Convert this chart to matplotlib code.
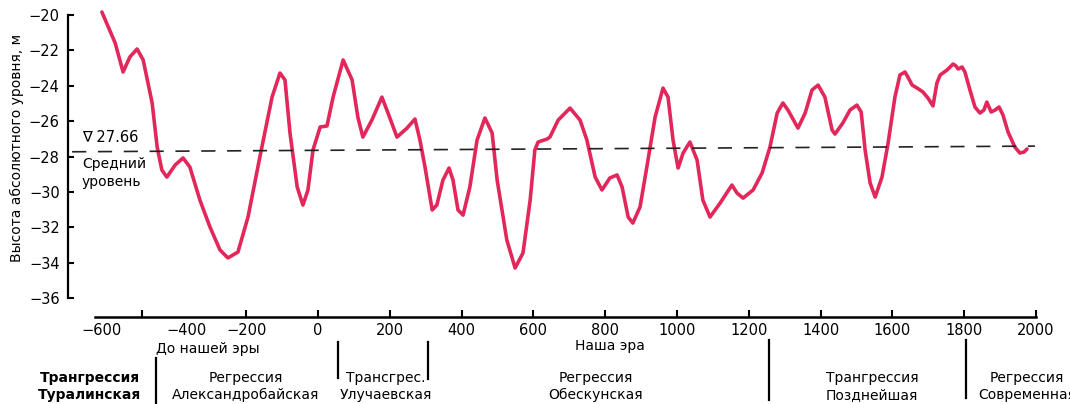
import matplotlib
matplotlib.use('Agg')
import matplotlib.pyplot as plt
import matplotlib.transforms as mtransforms
from matplotlib.lines import Line2D

# Caspian sea level curve: year, absolute level (m)
years = [-602, -565, -543, -524, -504, -487, -462, -448, -435, -421,
         -398, -376, -357, -329, -301, -273, -251, -223, -195, -162,
         -128, -106, -92, -78, -58, -42, -28, -14, 6, 25,
         42, 70, 95, 111, 125, 150, 178, 195, 220, 248,
         270, 284, 298, 318, 331, 348, 365, 376, 390, 404,
         423, 443, 465, 485, 499, 526, 549, 571, 591, 604,
         613, 638, 646, 669, 702, 730, 749, 772, 791, 813,
         833, 847, 864, 877, 897, 916, 939, 961, 975, 989,
         1003, 1017, 1036, 1056, 1072, 1092, 1120, 1153, 1167, 1184,
         1212, 1237, 1259, 1279, 1295, 1309, 1337, 1357, 1376, 1393,
         1412, 1432, 1440, 1462, 1482, 1501, 1513, 1524, 1538, 1552,
         1571, 1588, 1607, 1621, 1635, 1643, 1655, 1669, 1685, 1699,
         1713, 1724, 1733, 1752, 1769, 1777, 1783, 1794, 1802, 1816,
         1830, 1844, 1855, 1863, 1875, 1886, 1897, 1908, 1922, 1941,
         1955, 1967, 1975]
level = [-19.83, -21.58, -23.22, -22.37, -21.92, -22.54, -24.97, -27.46, -28.76, -29.16,
         -28.48, -28.08, -28.59, -30.46, -31.98, -33.28, -33.73, -33.40, -31.42, -28.03,
         -24.64, -23.28, -23.67, -26.67, -29.72, -30.74, -29.89, -27.63, -26.33, -26.27,
         -24.64, -22.54, -23.67, -25.77, -26.90, -25.94, -24.64, -25.54, -26.90, -26.39,
         -25.88, -27.07, -28.59, -31.02, -30.74, -29.33, -28.65, -29.33, -31.02, -31.31,
         -29.72, -27.07, -25.82, -26.67, -29.33, -32.72, -34.30, -33.45, -30.46, -27.63,
         -27.18, -27.01, -26.90, -25.94, -25.26, -25.94, -27.07, -29.16, -29.89, -29.21,
         -29.04, -29.72, -31.42, -31.76, -30.85, -28.59, -25.77, -24.13, -24.64, -27.07,
         -28.65, -27.80, -27.18, -28.20, -30.46, -31.42, -30.63, -29.61, -30.06, -30.35,
         -29.89, -28.93, -27.46, -25.54, -24.97, -25.37, -26.39, -25.54, -24.24, -23.96,
         -24.64, -26.50, -26.73, -26.10, -25.37, -25.09, -25.48, -27.63, -29.50, -30.29,
         -29.16, -27.24, -24.64, -23.39, -23.22, -23.50, -23.96, -24.13, -24.35, -24.69,
         -25.14, -23.84, -23.39, -23.11, -22.77, -22.88, -23.05, -22.94, -23.22, -24.24,
         -25.20, -25.54, -25.37, -24.92, -25.48, -25.37, -25.20, -25.65, -26.61, -27.46,
         -27.80, -27.74, -27.57]

# mean level line
mean_years = [-685, 1997]
mean_level = [-27.73, -27.41]
mean_label = '\u2207 27.66'

ytick_vals = [-20, -22, -24, -26, -28, -30, -32, -34, -36]
xtick_vals = [-600, -400, -200, 0, 200, 400, 600, 800, 1000, 1200, 1400, 1600, 1800, 2000]
xtick_marks = [-490, -200, 0, 200, 400, 600, 800, 1000, 1200, 1400, 1600, 1800, 2000]

# transgression / regression periods
period_bounds = [-450, 55, 305, 1255, 1805]
period_top = ['Трангрессия', 'Регрессия', 'Трансгрес.', 'Регрессия', 'Трангрессия', 'Регрессия']
period_bottom = ['Туралинская', 'Александробайская', 'Улучаевская', 'Обескунская', 'Позднейшая', 'Современная']

W, H = 1070, 404
RED = '#e2285a'


def fx(x):
    return x / W


def fy(y):
    return 1 - y / H


fig = plt.figure(figsize=(W / 100, H / 100), dpi=100)
ax = fig.add_axes([fx(68), fy(317), (W - 68) / W, 317 / H])
ax.set_xlim(-696.4, 2094.7)
ax.set_ylim(-37.07, -19.15)

ax.plot(years, level, color=RED, lw=2.6, solid_capstyle='round', solid_joinstyle='round')
ax.plot(mean_years, mean_level, color='#222222', lw=1.2, dashes=(8.5, 7))

for s in ['top', 'right']:
    ax.spines[s].set_visible(False)
ax.spines['left'].set_bounds(-36, -20)
ax.spines['bottom'].set_bounds(-621, 2000)
ax.spines['left'].set_linewidth(1.6)
ax.spines['bottom'].set_linewidth(1.8)

ax.set_yticks(ytick_vals, ['\u2212%d' % abs(v) for v in ytick_vals])
ax.tick_params(axis='y', direction='in', length=4, width=1.5, pad=6, labelsize=10.5)

# tick labels do not sit on the tick marks in the original
label_pos = list(xtick_vals)
label_pos[0] = -602
label_pos[1] = -365
ax.xaxis.remove_overlapping_locs = False
ax.set_xticks(label_pos, [str(v).replace('-', '\u2212') for v in xtick_vals])
ax.set_xticks(xtick_marks, minor=True)
ax.tick_params(axis='x', which='major', length=0, pad=4, labelsize=10.5)
ax.tick_params(axis='x', which='minor', direction='in', length=5, width=1.5)

fig.text(fx(17), fy(148), 'Высота абсолютного уровня, м', rotation=90,
         ha='center', va='center', fontsize=10)

fig.text(fx(82), fy(137), mean_label, ha='left', va='center', fontsize=10.5)
fig.text(fx(82), fy(164), 'Средний', ha='left', va='center', fontsize=10)
fig.text(fx(82), fy(182), 'уровень', ha='left', va='center', fontsize=10)

fig.text(fx(208), fy(349), 'До нашей эры', ha='center', va='center', fontsize=10)
fig.text(fx(610), fy(346), 'Наша эра', ha='center', va='center', fontsize=10)

# period labels along the bottom
trans = mtransforms.blended_transform_factory(ax.transData, fig.transFigure)
line_span = [(358, 404), (342, 378), (342, 379), (340, 400), (340, 398)]
for b, (y0, y1) in zip(period_bounds, line_span):
    fig.add_artist(Line2D([b, b], [fy(y0), fy(y1)], transform=trans, color='black', lw=1.6))

label_x = [90, 246, 386, 596, 872, 1027]
for i, (t, b) in enumerate(zip(period_top, period_bottom)):
    w = 'bold' if i == 0 else 'normal'
    fig.text(fx(label_x[i]), fy(378), t, ha='center', va='center', fontsize=10, fontweight=w)
    fig.text(fx(label_x[i]), fy(395), b, ha='center', va='center', fontsize=10, fontweight=w)

fig.savefig('out.png', dpi=100)
